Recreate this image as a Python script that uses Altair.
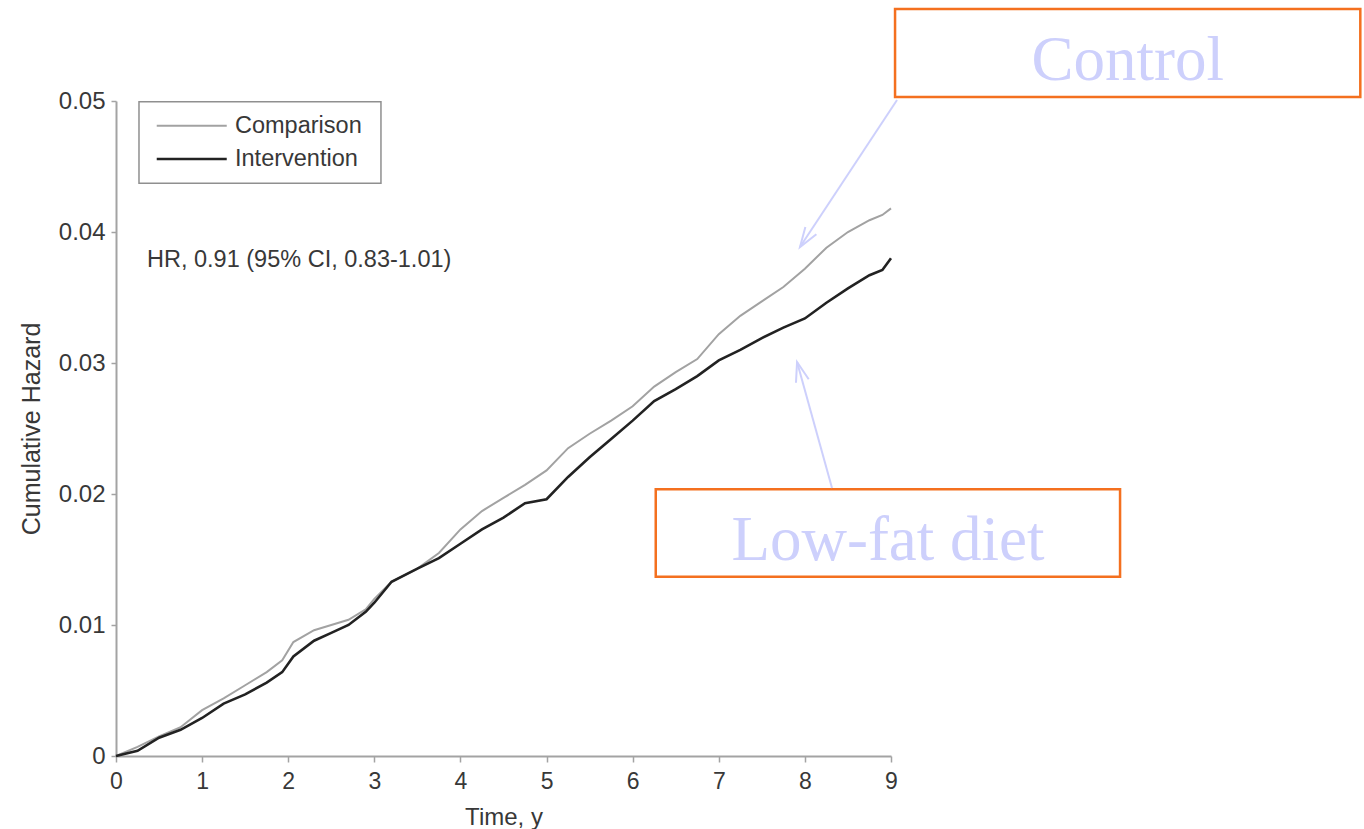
import math
import altair as alt
import pandas as pd

# Cumulative hazard curves by study arm (time in years)
time_y = [0, 0.25, 0.5, 0.75, 1.0, 1.25, 1.5, 1.75, 1.93, 2.06, 2.3, 2.5, 2.7, 2.9,
          3.0, 3.2, 3.5, 3.75, 4.0, 4.25, 4.5, 4.75, 5.0, 5.25, 5.5, 5.75,
          6.0, 6.25, 6.5, 6.75, 7.0, 7.25, 7.5, 7.75, 8.0, 8.25, 8.5, 8.75, 8.9, 9.0]
comparison = [0, 0.0007, 0.0015, 0.0022, 0.0035, 0.0044, 0.0054, 0.0064, 0.0073, 0.0087,
              0.0096, 0.0100, 0.0104, 0.0112, 0.0120, 0.0133, 0.0143, 0.0155, 0.0173, 0.0187,
              0.0197, 0.0207, 0.0218, 0.0235, 0.0246, 0.0256, 0.0267, 0.0282, 0.0293, 0.0303,
              0.0322, 0.0336, 0.0347, 0.0358, 0.0372, 0.0388, 0.0400, 0.0409, 0.0413, 0.0418]
intervention = [0, 0.0004, 0.0014, 0.0020, 0.0029, 0.0040, 0.0047, 0.0056, 0.0064, 0.0076,
                0.0088, 0.0094, 0.0100, 0.0110, 0.0117, 0.0133, 0.0143, 0.0151, 0.0162, 0.0173,
                0.0182, 0.0193, 0.0196, 0.0213, 0.0228, 0.0242, 0.0256, 0.0271, 0.0280, 0.0290,
                0.0302, 0.0310, 0.0319, 0.0327, 0.0334, 0.0346, 0.0357, 0.0367, 0.0371, 0.0380]

groups = ["Comparison", "Intervention"]
group_colors = ["#a2a2a2", "#222222"]
x_ticks = [0, 1, 2, 3, 4, 5, 6, 7, 8, 9]
y_ticks = [0, 0.01, 0.02, 0.03, 0.04, 0.05]
hr_label = "HR, 0.91 (95% CI, 0.83-1.01)"
callouts = ["Control", "Low-fat diet"]

W, H = 775, 655
X_MAX, Y_MAX = 9, 0.05
SANS = "Liberation Sans"
SERIF = "Liberation Serif"
TEXT = "#383838"
AXIS_GREY = "#a3a3a3"
LAVENDER = "#cdd0fc"
ORANGE = "#f4701f"

x_scale = alt.Scale(domain=[0, X_MAX], nice=False, zero=False)
y_scale = alt.Scale(domain=[0, Y_MAX], nice=False, zero=False)

x_axis = alt.Axis(values=x_ticks, grid=False, tickSize=6, tickColor=AXIS_GREY, tickWidth=1.5,
                  domainColor=AXIS_GREY, domainWidth=2, labelFont=SANS, labelFontSize=23,
                  labelColor=TEXT, labelPadding=8, labelFlush=False, titleFont=SANS,
                  titleFontSize=24, titleFontWeight="normal", titleColor=TEXT, titlePadding=12)
y_axis = alt.Axis(values=y_ticks, grid=False, tickSize=5, tickColor=AXIS_GREY, tickWidth=1.5,
                  domainColor=AXIS_GREY, domainWidth=2, labelFont=SANS, labelFontSize=24,
                  labelColor=TEXT, labelPadding=6, labelFlush=False,
                  labelExpr="datum.value == 0 ? '0' : format(datum.value, '.2f')",
                  titleFont=SANS, titleFontSize=25, titleFontWeight="normal", titleColor=TEXT,
                  titlePadding=14)


def X(field="t"):
    return alt.X(f"{field}:Q", scale=x_scale, axis=x_axis, title="Time, y")


def Y(field="h"):
    return alt.Y(f"{field}:Q", scale=y_scale, axis=y_axis, title="Cumulative Hazard")


n = len(time_y)
curves = pd.DataFrame({
    "t": time_y * 2,
    "h": comparison + intervention,
    "group": [groups[0]] * n + [groups[1]] * n,
    "w": [2.0] * n + [2.6] * n,
})

lines = alt.Chart(curves).mark_line(clip=False).encode(
    x=X(), y=Y(),
    color=alt.Color("group:N", scale=alt.Scale(domain=groups, range=group_colors), legend=None),
    strokeWidth=alt.StrokeWidth("w:Q", scale=None, legend=None),
    detail="group:N",
)

# Legend frame, key lines and labels (placed in data units)
legend_box = alt.Chart(pd.DataFrame({"t": [0.267], "t2": [3.077], "h": [0.04995], "h2": [0.04372]})) \
    .mark_rect(fillOpacity=0, stroke="#8f8f8f", strokeWidth=1.5, clip=False) \
    .encode(x=X(), x2="t2:Q", y=Y(), y2="h2:Q")

legend_keys = alt.Chart(pd.DataFrame({
    "t": [0.473, 0.473], "t2": [1.286, 1.286], "h": [0.04811, 0.04557],
    "group": groups, "w": [2.0, 2.6]})) \
    .mark_rule(clip=False) \
    .encode(x=X(), x2="t2:Q", y=Y(),
            color=alt.Color("group:N", scale=alt.Scale(domain=groups, range=group_colors), legend=None),
            strokeWidth=alt.StrokeWidth("w:Q", scale=None, legend=None))

legend_text = alt.Chart(pd.DataFrame({"t": [1.382, 1.382], "h": [0.04811, 0.04557], "label": groups})) \
    .mark_text(align="left", baseline="middle", font=SANS, fontSize=23.5, color=TEXT, clip=False) \
    .encode(x=X(), y=Y(), text="label:N")

hr_text = alt.Chart(pd.DataFrame({"t": [0.36], "h": [0.03786], "label": [hr_label]})) \
    .mark_text(align="left", baseline="middle", font=SANS, fontSize=23.5, color=TEXT, clip=False) \
    .encode(x=X(), y=Y(), text="label:N")

# Call-out boxes naming the two arms
callout_boxes = alt.Chart(pd.DataFrame({
    "t": [9.047, 6.268], "t2": [14.45, 11.66],
    "h": [0.05702, 0.02036], "h2": [0.05031, 0.01369]})) \
    .mark_rect(fillOpacity=0, stroke=ORANGE, strokeWidth=2.5, clip=False) \
    .encode(x=X(), x2="t2:Q", y=Y(), y2="h2:Q")

callout_text = alt.Chart(pd.DataFrame({"t": [11.75, 8.965], "h": [0.0516, 0.01496], "label": callouts})) \
    .mark_text(align="center", baseline="alphabetic", font=SERIF, fontSize=63, color=LAVENDER, clip=False) \
    .encode(x=X(), y=Y(), text="label:N")

# Arrows from the call-outs to the curves
arrow_start_t = [9.07, 8.315]
arrow_start_h = [0.05008, 0.02046]
arrow_end_t = [7.943, 7.909]
arrow_end_h = [0.03885, 0.03008]
angles = []
for t0, h0, t1, h1 in zip(arrow_start_t, arrow_start_h, arrow_end_t, arrow_end_h):
    dx = (t1 - t0) * W / X_MAX
    dy = -(h1 - h0) * H / Y_MAX
    angles.append(math.degrees(math.atan2(dx, -dy)) % 360)

arrows = pd.DataFrame({"t": arrow_start_t, "h": arrow_start_h,
                       "t2": arrow_end_t, "h2": arrow_end_h})
arrow_shafts = alt.Chart(arrows).mark_rule(color=LAVENDER, strokeWidth=2, clip=False) \
    .encode(x=X(), x2="t2:Q", y=Y(), y2="h2:Q")

heads = pd.DataFrame({"t": arrow_end_t, "h": arrow_end_h, "ang": angles})
arrow_heads = alt.Chart(heads).mark_point(
    shape="M -0.6 1.8 L 0 0 L 0.6 1.8", size=484, filled=False, stroke=LAVENDER,
    strokeWidth=2, opacity=1, clip=False) \
    .encode(x=X(), y=Y(), angle=alt.Angle("ang:Q", scale=None))

chart = alt.layer(
    legend_box, legend_keys, legend_text, hr_text, lines,
    callout_boxes, callout_text, arrow_shafts, arrow_heads,
).properties(
    width=W, height=H,
    autosize=alt.AutoSizeParams(type="none"),
    padding={"left": 116, "top": 101, "right": 473, "bottom": 73},
    background="white",
).configure_view(strokeWidth=0)

chart.save("out.html", embed_options={"renderer": "svg", "actions": False})
